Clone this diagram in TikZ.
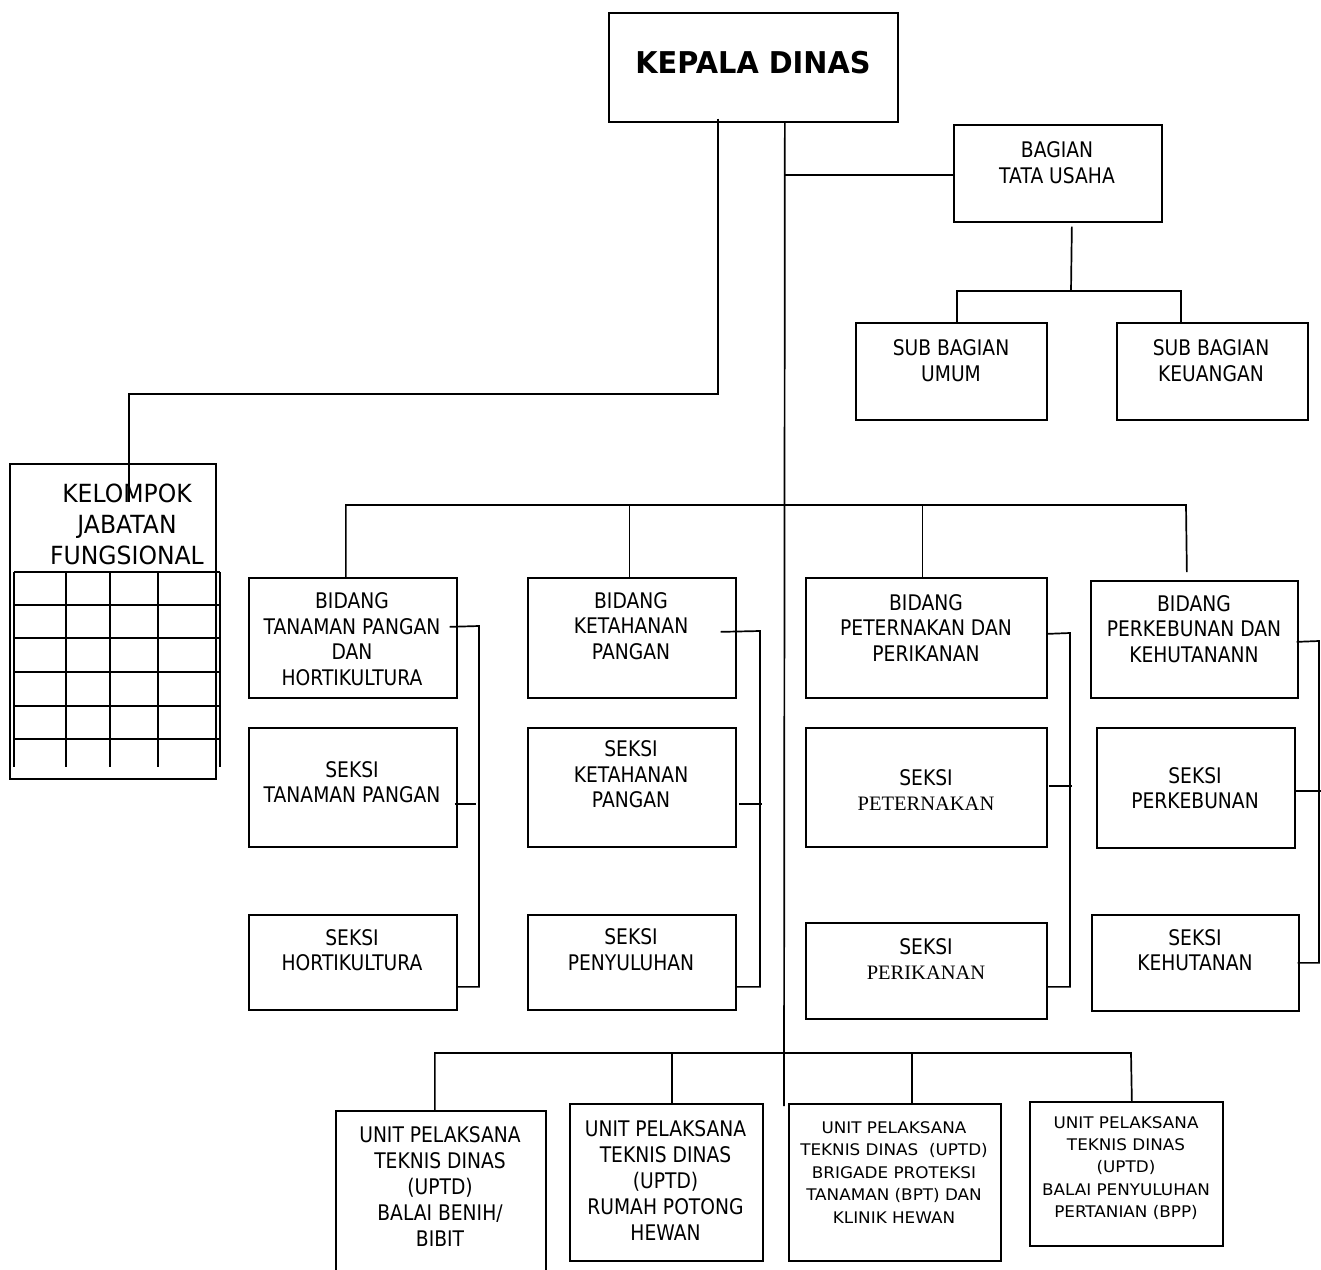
\documentclass[tikz,border=0pt]{standalone}
\usepackage{fontspec}
\newfontfamily\tfont[FakeStretch=0.87]{DejaVu Sans}
\newfontfamily\kjffont[FakeStretch=0.94]{DejaVu Sans}
\newfontfamily\ufont[FakeStretch=1.05]{DejaVu Sans}
\newfontfamily\kdfont[FakeStretch=0.96]{DejaVu Sans}
\newfontfamily\serfont{Liberation Serif}
\tikzset{
  box/.style={draw, line width=1.7pt, inner sep=0pt, anchor=north west},
  txt/.style={align=center, inner sep=0pt, font=\tfont\fontsize{21.5}{25.5}\selectfont},
  smalltxt/.style={align=center, inner sep=0pt, font=\ufont\fontsize{16}{22.4}\selectfont},
  conn/.style={line width=1.7pt},
  gridline/.style={line width=2.2pt},
}
\begin{document}
\begin{tikzpicture}[x=1pt,y=-1pt]
\useasboundingbox[fill=white] (0,0) rectangle (1321,1269);

% ---------- boxes ----------
\node[box, minimum width=289pt, minimum height=109pt] (kd) at (608,12) {};
\node[box, minimum width=208pt, minimum height=97pt] (tu) at (953,124) {};
\node[box, minimum width=191pt, minimum height=97pt] (sbu) at (855,322) {};
\node[box, minimum width=191pt, minimum height=97pt] (sbk) at (1116,322) {};
\node[box, minimum width=206pt, minimum height=315pt] (kjf) at (9,463) {};

\node[box, minimum width=208pt, minimum height=120pt] (b1) at (248,577) {};
\node[box, minimum width=208pt, minimum height=119pt] (s1a) at (248,727) {};
\node[box, minimum width=208pt, minimum height=95pt] (s1b) at (248,914) {};

\node[box, minimum width=208pt, minimum height=120pt] (b2) at (527,577) {};
\node[box, minimum width=208pt, minimum height=119pt] (s2a) at (527,727) {};
\node[box, minimum width=208pt, minimum height=95pt] (s2b) at (527,914) {};

\node[box, minimum width=241pt, minimum height=120pt] (b3) at (805,577) {};
\node[box, minimum width=241pt, minimum height=119pt] (s3a) at (805,727) {};
\node[box, minimum width=241pt, minimum height=96pt] (s3b) at (805,922) {};

\node[box, minimum width=207pt, minimum height=117pt] (b4) at (1090,580) {};
\node[box, minimum width=198pt, minimum height=120pt] (s4a) at (1096,727) {};
\node[box, minimum width=207pt, minimum height=96pt] (s4b) at (1091,914) {};

\node[box, minimum width=210pt, minimum height=180pt] (u1) at (335,1110) {};
\node[box, minimum width=193pt, minimum height=157pt] (u2) at (569,1103) {};
\node[box, minimum width=212pt, minimum height=157pt] (u3) at (788,1103) {};
\node[box, minimum width=193pt, minimum height=144pt] (u4) at (1029,1101) {};

% ---------- texts ----------
\node[inner sep=0pt, font=\kdfont\bfseries\fontsize{30}{36}\selectfont] (t-kd) at (753,63) {KEPALA DINAS};
\node[txt] (t-tu) at (1057,162.5) {BAGIAN\\TATA USAHA};
\node[txt] (t-sbu) at (951,360.5) {SUB BAGIAN\\UMUM};
\node[txt] (t-sbk) at (1211,360.5) {SUB BAGIAN\\KEUANGAN};
\node[align=center, inner sep=0pt, font=\kjffont\fontsize{25}{31.3}\selectfont] (t-kjf) at (127,524.5) {KELOMPOK\\JABATAN\\FUNGSIONAL};

\node[txt] (t-b1) at (352,639) {BIDANG\\TANAMAN PANGAN\\DAN\\HORTIKULTURA};
\node[txt] (t-s1a) at (352,782) {SEKSI\\TANAMAN PANGAN};
\node[txt] (t-s1b) at (352,950) {SEKSI\\HORTIKULTURA};

\node[txt] (t-b2) at (631,626) {BIDANG\\KETAHANAN\\PANGAN};
\node[txt] (t-s2a) at (631,774.6) {SEKSI\\KETAHANAN\\PANGAN};
\node[txt] (t-s2b) at (631,949.5) {SEKSI\\PENYULUHAN};

\node[txt] (t-b3) at (926,628) {BIDANG\\PETERNAKAN DAN\\PERIKANAN};
\node[txt] (t-s3a) at (926,790) {SEKSI\\{\serfont\fontsize{20.5}{25.5}\selectfont PETERNAKAN}};
\node[txt] (t-s3b) at (926,959) {SEKSI\\{\serfont\fontsize{20.5}{25.5}\selectfont PERIKANAN}};

\node[txt] (t-b4) at (1194,628.7) {BIDANG\\PERKEBUNAN DAN\\KEHUTANANN};
\node[txt] (t-s4a) at (1195,788) {SEKSI\\PERKEBUNAN};
\node[txt] (t-s4b) at (1195,950) {SEKSI\\KEHUTANAN};

\node[txt, font=\tfont\fontsize{21.5}{26}\selectfont] (t-u1) at (440,1186.8) {UNIT PELAKSANA\\TEKNIS DINAS\\(UPTD)\\BALAI BENIH/\\BIBIT};
\node[txt, font=\tfont\fontsize{21.5}{26}\selectfont] (t-u2) at (665.5,1180.5) {UNIT PELAKSANA\\TEKNIS DINAS\\(UPTD)\\RUMAH POTONG\\HEWAN};
\node[smalltxt] (t-u3) at (894,1172.3) {UNIT PELAKSANA\\TEKNIS DINAS\ \ (UPTD)\\BRIGADE PROTEKSI\\TANAMAN (BPT) DAN\\KLINIK HEWAN};
\node[smalltxt, font=\ufont\fontsize{16}{22.2}\selectfont] (t-u4) at (1126,1168) {UNIT PELAKSANA\\TEKNIS DINAS\\(UPTD)\\BALAI PENYULUHAN\\PERTANIAN (BPP)};

% ---------- grid inside KELOMPOK JABATAN FUNGSIONAL ----------
\foreach \yy in {572,605,638,672,706,739} \draw[gridline] (14,\yy) -- (220,\yy);
\foreach \xx in {14,66,110,158,220} \draw[gridline] (\xx,572) -- (\xx,767);

% ---------- connectors ----------
\coordinate (kjfin) at (129,502);
\coordinate (spineend) at (784,1106);
\coordinate (tuj) at (785,175);
\coordinate (tuh) at (1071,291);
\coordinate (busR) at (1186,505);
\coordinate (ubusR) at (1131,1053);
\coordinate (b1r) at (479,626);
\coordinate (b2r) at (760,631);
\coordinate (b3r) at (1070,633);
\coordinate (b4r) at (1319,641);

% Kepala Dinas -> Kelompok Jabatan Fungsional
\draw[conn] ([shift={(-35.5pt,4pt)}]kd.south) -- ++(0,275) -| (kjfin);
% main spine
\draw[conn] ([xshift=31.5pt]kd.south) -- (spineend);
% spine -> Bagian Tata Usaha
\draw[conn] (tuj) -- (tuj -| tu.west);
% Bagian Tata Usaha -> sub bagian
\draw[conn] ([shift={(14pt,-4pt)}]tu.south) -- (tuh);
\draw[conn] ([xshift=5.5pt]sbu.north) |- (tuh) -| ([xshift=-31.5pt]sbk.north);

% bus to bidang
\draw[conn] ([xshift=-7pt]b1.north) |- (busR) -- ([shift={(-7.5pt,8pt)}]b4.north);
\draw[conn] ([xshift=-2.5pt]b2.north) -- ([xshift=-2.5pt]b2.north |- busR);
\draw[conn] ([xshift=-4pt]b3.north) -- ([xshift=-4pt]b3.north |- busR);

% bidang brackets
\draw[conn] ([shift={(-8pt,11pt)}]b1.east) -- (b1r) |- ([yshift=-24.5pt]s1b.east);
\draw[conn] ([shift={(-3pt,-16.5pt)}]s1a.east) -- ++(21.5,0);

\draw[conn] ([shift={(-16pt,6pt)}]b2.east) -- (b2r) |- ([yshift=-24.5pt]s2b.east);
\draw[conn] ([shift={(2.6pt,-16.5pt)}]s2a.east) -- ++(22.4,0);

\draw[conn] ([yshift=4pt]b3.east) -- (b3r) |- ([yshift=-16pt]s3b.east);
\draw[conn] ([shift={(1pt,1.5pt)}]s3a.east) -- ++(23,0);

\draw[conn] ([shift={(-2pt,-2.5pt)}]b4.east) -- (b4r) |- ([xshift=-2pt]s4b.east);
\draw[conn] ([yshift=-3pt]s4a.east) -- ++(25,0);

% bottom bus to UPTD
\draw[conn] ([xshift=-6pt]u1.north) |- (ubusR) -- ([xshift=5.5pt]u4.north);
\draw[conn] ([xshift=5.5pt]u2.north) -- ([xshift=5.5pt]u2.north |- ubusR);
\draw[conn] ([xshift=17pt]u3.north) -- ([xshift=17pt]u3.north |- ubusR);
\end{tikzpicture}
\end{document}
